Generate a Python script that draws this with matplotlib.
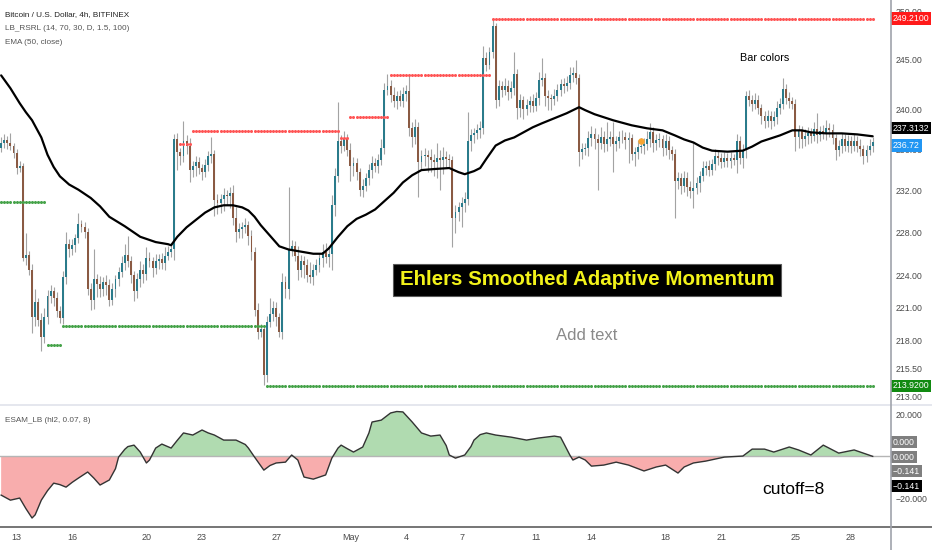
import numpy as np
import matplotlib
matplotlib.use('Agg')
import matplotlib.pyplot as plt
from matplotlib.lines import Line2D
from matplotlib.ticker import NullLocator

# ---------------- data (4h bars, first bar = Apr 12 04:00) ----------------
first_open = 236.2
close = [
    236.7, 236.9, 236.7, 236.4, 235.7, 234.2, 234.4, 225.6, 225.9, 224.5,
    220.1, 221.5, 219.9, 218.3, 220.1, 222.1, 222.5, 221.9, 220.7, 220.0,
    223.8, 226.9, 226.4, 226.8, 227.5, 228.8, 228.5, 228.1, 222.7, 221.7,
    223.6, 223.2, 222.7, 223.4, 223.1, 221.7, 222.7, 223.6, 224.3, 225.1,
    225.9, 225.3, 224.0, 222.5, 223.6, 224.5, 224.1, 225.6, 225.3, 224.7,
    225.3, 225.5, 225.1, 225.8, 226.2, 226.4, 237.0, 235.8, 235.4, 236.8,
    236.4, 234.0, 234.4, 234.8, 234.2, 233.8, 234.5, 235.4, 235.6, 231.1,
    230.8, 231.2, 231.6, 231.5, 231.8, 229.4, 228.1, 228.3, 228.5, 228.7, 227.7,
    226.2, 220.8, 218.8, 219.0, 214.9, 219.7, 220.4, 221.0, 220.1, 218.8,
    223.4, 222.7, 226.4, 226.7, 225.8, 224.5, 225.3, 224.9, 224.0, 223.8,
    224.5, 224.9, 225.6, 226.2, 225.7, 226.0, 230.6, 233.4, 236.8, 236.4,
    237.0, 236.0, 234.4, 234.7, 233.8, 232.1, 232.5, 233.2, 234.0, 234.7,
    234.4, 235.0, 236.2, 241.9, 242.3, 241.4, 240.8, 241.3, 240.8, 241.5,
    241.8, 238.1, 237.2, 238.2, 234.8, 235.4, 235.5, 235.3, 235.0, 234.8,
    235.2, 235.0, 235.3, 235.1, 235.0, 229.4, 230.0, 230.4, 230.8, 231.2,
    236.8, 237.4, 237.6, 237.9, 238.1, 245.2, 244.5, 245.8, 248.4, 240.9,
    242.3, 241.9, 242.3, 241.7, 242.1, 243.5, 240.1, 240.9, 240.0, 240.4,
    240.8, 240.3, 241.1, 242.9, 243.1, 241.3, 241.1, 241.0, 241.3, 241.9,
    242.5, 242.3, 242.6, 243.4, 243.6, 243.1, 235.8, 236.1, 236.2, 237.1,
    237.5, 237.0, 236.7, 237.2, 236.6, 237.0, 237.2, 236.6, 236.8, 237.2,
    237.2, 236.9, 237.1, 235.6, 235.8, 236.3, 236.4, 236.6, 237.0, 237.7,
    236.7, 236.9, 237.0, 236.2, 236.8, 236.0, 235.6, 232.9, 233.2, 232.5, 233.2,
    232.4, 232.0, 232.3, 232.7, 233.4, 234.2, 234.4, 234.0, 234.6, 235.4,
    235.2, 234.8, 235.2, 234.9, 235.2, 235.0, 236.8, 235.2, 236.0, 241.3,
    240.9, 240.5, 240.9, 240.1, 239.3, 238.8, 239.3, 238.8, 239.2, 240.1,
    240.5, 242.0, 241.1, 240.8, 240.5, 237.2, 237.8, 237.0, 237.3, 237.6,
    237.3, 238.0, 237.4, 237.8, 237.5, 238.1, 237.9, 237.1, 236.0, 236.4,
    237.0, 236.4, 236.8, 236.4, 236.8, 236.4, 236.1, 235.4, 236.0, 236.4, 236.72,
]
# wick length above the body top / below the body bottom
wick_hi = [
    0.5, 0.6, 0.4, 0.9, 0.3, 0.4, 0.5, 0.3, 2.1, 0.4,
    0.5, 1.2, 0.4, 0.6, 0.9, 0.5, 0.6, 0.4, 0.5, 0.4,
    0.6, 1.2, 0.5, 0.6, 0.4, 1.1, 0.4, 0.5, 0.3, 0.6,
    2.8, 0.5, 0.7, 0.4, 0.6, 0.5, 0.6, 0.4, 0.5, 0.7,
    1.0, 1.8, 0.5, 0.4, 0.6, 0.8, 0.5, 1.0, 0.6, 0.4,
    0.7, 0.5, 0.6, 0.8, 0.5, 0.6, 0.5, 0.6, 0.4, 2.0,
    0.6, 0.7, 0.5, 0.6, 0.5, 0.4, 0.6, 0.5, 1.6, 0.4,
    0.6, 0.5, 0.7, 0.5, 0.6, 0.8, 1.0, 0.6, 0.5, 0.7, 0.4,
    0.5, 0.4, 0.6, 0.5, 0.3, 0.5, 1.5, 0.6, 0.5, 0.4,
    0.8, 0.5, 6.0, 0.6, 0.5, 0.9, 0.6, 0.5, 0.6, 1.2,
    0.5, 0.6, 0.5, 0.7, 0.8, 0.6, 1.0, 0.8, 3.9, 0.6,
    0.8, 0.5, 0.7, 0.6, 0.5, 0.4, 0.6, 0.5, 0.6, 0.7,
    0.5, 0.6, 0.8, 0.7, 1.2, 0.6, 0.8, 0.5, 0.6, 0.7,
    0.6, 1.7, 0.6, 0.8, 0.5, 0.6, 0.7, 0.5, 0.8, 0.6,
    1.5, 0.8, 1.0, 0.6, 0.5, 0.4, 0.6, 0.5, 0.6, 0.7,
    2.9, 0.6, 0.5, 0.6, 0.7, 1.2, 0.6, 0.5, 0.8, 0.4,
    0.6, 0.5, 0.8, 0.6, 0.7, 2.3, 0.5, 0.6, 0.4, 0.6,
    0.5, 0.7, 0.6, 0.8, 2.1, 0.5, 0.6, 0.4, 0.7, 0.6,
    0.5, 0.6, 0.7, 0.8, 0.6, 1.4, 0.4, 0.6, 0.5, 0.7,
    0.8, 0.6, 0.5, 1.0, 0.6, 1.7, 0.6, 1.5, 0.5, 0.6,
    0.7, 0.5, 0.6, 0.4, 0.5, 0.6, 0.7, 0.5, 0.8, 0.9,
    0.5, 0.6, 0.6, 0.4, 0.7, 0.5, 0.4, 0.5, 0.6, 0.5, 0.7,
    0.6, 0.5, 4.4, 0.6, 0.5, 0.7, 0.5, 0.6, 0.5, 0.7,
    0.6, 0.5, 0.6, 0.5, 0.6, 0.4, 0.7, 0.5, 0.6, 0.5,
    0.6, 0.5, 0.7, 0.5, 0.4, 0.5, 0.6, 0.5, 0.6, 0.7,
    0.6, 1.1, 0.5, 0.6, 0.4, 0.5, 0.6, 0.5, 0.7, 0.6,
    0.5, 0.7, 1.6, 0.5, 0.6, 0.8, 0.5, 0.6, 0.4, 0.5,
    0.6, 0.5, 0.6, 0.5, 0.7, 0.5, 0.6, 0.4, 0.5, 0.6, 0.5,
]
wick_lo = [
    0.4, 0.5, 0.6, 0.4, 0.5, 0.6, 0.4, 0.3, 0.7, 0.5,
    1.4, 0.8, 0.6, 1.3, 0.5, 0.6, 0.7, 0.8, 0.6, 0.4,
    0.5, 0.6, 0.7, 0.5, 0.6, 0.5, 0.4, 0.6, 0.5, 0.9,
    0.8, 1.2, 0.7, 0.6, 0.9, 0.6, 0.5, 0.7, 0.6, 0.5,
    0.6, 0.5, 0.7, 0.9, 0.6, 0.7, 0.8, 0.6, 0.5, 0.9,
    0.6, 0.7, 0.5, 0.6, 0.4, 0.5, 1.0, 1.8, 0.9, 0.6,
    0.8, 1.2, 0.7, 1.0, 0.6, 0.8, 0.5, 0.6, 0.7, 1.5,
    1.0, 0.9, 1.1, 0.9, 1.2, 0.7, 1.0, 0.6, 0.8, 0.5, 0.9,
    0.8, 0.6, 0.7, 0.5, 0.9, 0.6, 0.5, 0.6, 0.8, 0.5,
    0.7, 0.8, 0.9, 0.6, 0.5, 1.0, 0.7, 1.2, 0.6, 0.5,
    0.7, 0.5, 0.6, 0.8, 0.6, 0.9, 1.5, 1.0, 0.6, 0.7,
    0.5, 0.6, 1.5, 1.0, 0.8, 0.6, 0.7, 0.5, 0.6, 0.8,
    0.6, 0.7, 0.5, 0.6, 0.5, 0.7, 0.6, 0.8, 0.5, 0.6,
    0.7, 0.8, 0.9, 0.6, 3.4, 0.8, 1.0, 1.5, 1.2, 1.4,
    1.6, 2.9, 1.4, 0.8, 0.7, 2.8, 1.4, 0.9, 1.9, 0.8,
    0.6, 0.9, 0.7, 0.6, 0.8, 0.6, 0.7, 0.5, 0.6, 0.8,
    0.6, 0.7, 0.5, 0.8, 0.6, 0.7, 1.1, 0.9, 1.0, 0.6,
    0.7, 0.6, 0.5, 0.7, 0.6, 1.0, 1.2, 1.1, 0.6, 0.5,
    0.6, 0.7, 0.5, 0.6, 0.7, 0.6, 1.4, 0.7, 0.6, 0.8,
    0.7, 0.9, 4.6, 0.6, 0.8, 0.7, 0.6, 2.8, 0.7, 0.6,
    0.5, 0.8, 2.2, 0.6, 1.2, 0.7, 0.6, 0.8, 0.6, 0.7,
    0.9, 0.7, 0.6, 0.8, 0.7, 0.9, 0.6, 3.5, 0.7, 0.8, 0.6,
    0.9, 0.7, 1.7, 0.6, 0.8, 0.5, 0.7, 0.6, 0.5, 0.6,
    0.7, 0.6, 0.5, 0.6, 0.7, 0.5, 1.3, 0.6, 1.0, 0.8,
    0.6, 0.7, 0.5, 0.6, 0.8, 0.7, 0.6, 0.8, 0.5, 0.7,
    0.6, 0.5, 0.6, 0.7, 0.5, 1.3, 1.0, 0.8, 0.6, 0.7,
    0.6, 0.5, 0.7, 0.6, 0.5, 0.6, 0.7, 0.5, 1.0, 0.6,
    0.7, 0.5, 0.6, 0.7, 0.5, 0.6, 0.7, 0.8, 0.6, 0.5, 0.6,
]

# EMA(50, close) vertices (bar index, value)
ema_bar = [0, 3, 6, 8, 10, 13, 15, 17, 19, 22, 25, 29, 32, 35, 40, 45, 50, 54, 55, 57,
           60, 63, 66, 69, 72, 75, 78, 80, 82, 84, 87, 90, 93, 97, 101, 104, 106, 109, 112, 115,
           118, 121, 124, 127, 130, 133, 136, 140, 145, 148, 150, 153, 155, 157, 160, 163, 166,
           169, 172, 175, 179, 183, 187, 189, 192, 198, 204, 209, 214, 218, 221, 224, 227, 230,
           235, 240, 243, 246, 249, 252, 256, 259, 262, 267, 272, 277, 282]
ema_val = [243.4, 242.1, 240.6, 239.7, 238.9, 237.2, 235.5, 234.3, 233.4, 232.6,
           232.1, 231.3, 230.5, 229.5, 228.6, 227.6, 227.1, 226.9, 226.8, 227.6,
           228.5, 229.2, 229.9, 230.4, 230.6, 230.6, 230.4, 230.1, 229.5, 228.7,
           227.7, 226.7, 226.4, 226.2, 226.0, 226.0, 226.5, 227.6, 228.6, 229.3,
           229.7, 230.2, 231.0, 231.8, 232.8, 233.5, 234.0, 234.1, 234.2, 233.8,
           233.6, 233.9, 234.2, 235.1, 236.4, 236.9, 237.2, 237.7, 238.2, 238.6,
           239.1, 239.6, 240.2, 239.9, 239.5, 238.9, 238.4, 238.1, 237.9, 237.4,
           237.0, 236.7, 236.2, 235.9, 235.8, 235.9, 236.3, 236.8, 237.1, 237.4,
           237.9, 237.9, 237.7, 237.6, 237.6, 237.5, 237.3132]

# ESAM_LB oscillator (bar index, value)
osc_bar = [0, 3, 6, 8, 10, 11, 13, 15, 17, 19, 21, 23, 25, 28, 30, 32, 35, 37, 38, 40,
           41, 43, 45, 47, 48, 50, 52, 55, 57, 59, 62, 65, 67, 69, 72, 76, 79, 80, 82, 85,
           87, 89, 92, 94, 96, 98, 101, 105, 107, 109, 110, 112, 114, 117, 119, 120, 123, 126,
           128, 130, 133, 136, 139, 142, 144, 145, 147, 150, 152, 153, 155, 157, 160, 165, 170,
           174, 179, 181, 182, 184, 185, 187, 189, 191, 195, 199, 203, 208, 212, 215, 219, 221,
           224, 228, 234, 240, 243, 247, 250, 255, 258, 262, 266, 271, 276, 282]
osc_val = [-18.6, -21.0, -20.0, -25.0, -29.5, -28.0, -21.0, -16.5, -12.9, -13.6,
           -14.8, -12.5, -10.5, -7.6, -10.5, -13.8, -11.4, -6.0, -0.5, 3.2,
           4.5, 5.2, 1.9, -3.3, -1.9, 3.8, 5.7, 3.8, 7.5, 11.0,
           10.0, 12.4, 11.0, 10.0, 7.6, 7.6, 5.5, 3.8, -0.5, -6.7,
           -4.5, -3.3, -2.9, 0.5, -1.9, -10.0, -11.0, -9.0, -1.0, 3.8,
           5.2, 3.5, 1.9, 4.3, 11.0, 16.2, 17.1, 20.5, 21.2, 21.0,
           16.2, 11.0, 9.5, 10.0, 5.0, 0.5, -1.0, 0.5, 4.5, 7.6,
           10.2, 11.0, 10.0, 9.0, 7.6, 8.6, 9.5, 9.0, 6.2, 0.5,
           -1.9, -0.5, -1.9, -4.8, -4.3, -2.9, -4.3, -7.1, -5.2, -4.3,
           -8.1, -5.2, -3.3, -2.4, -0.5, 0.0, 3.3, 3.3, 1.9, 4.3,
           2.9, 0.5, 5.2, 1.4, 2.9, -0.141]

# LB_RSRL resistance / support levels
res_start = [58, 62, 110, 113, 126, 159]
res_end = [61, 109, 112, 125, 158, 282]
res_level = [236.6, 237.8, 237.1, 239.2, 243.4, 249.21]
sup_start = [0, 15, 20, 86]
sup_end = [14, 19, 85, 282]
sup_level = [230.9, 217.6, 219.3, 213.92]

signal_bar = 207
signal_price = 236.85

# time axis: days after Apr 13
day_offset = [0, 3, 7, 10, 14, 18, 21, 24, 28, 31, 35, 38, 42, 45]
day_label = ['13', '16', '20', '23', '27', 'May', '4', '7', '11', '14', '18', '21', '25', '28']
price_ticks = [213, 215.5, 218, 221, 224, 228, 232, 236, 240, 245, 250]

assert len(close) == len(wick_hi) == len(wick_lo)
assert len(osc_bar) == len(osc_val) and len(ema_bar) == len(ema_val)

plt.rcParams['font.family'] = ['Liberation Sans', 'DejaVu Sans']

W, H = 932, 550
AXR = 890  # right edge of the plot area in pixels
fig = plt.figure(figsize=(W / 100, H / 100), dpi=100)
fig.patch.set_facecolor('white')
ax = fig.add_axes([0, 1 - 403 / H, AXR / W, 403 / H])
ax2 = fig.add_axes([0, 1 - 526 / H, AXR / W, 121 / H])

teal = '#2a7b8b'
brown = '#8a5a43'

# candles
c = np.array(close)
o = np.array([first_open] + close[:-1])
top = np.maximum(o, c)
bot = np.minimum(o, c)
hi = top + np.array(wick_hi)
lo = bot - np.array(wick_lo)
xb = np.arange(len(c))
ax.vlines(xb, lo, hi, color='#a3a3a3', lw=0.8, zorder=2)
ax.bar(xb, np.maximum(top - bot, 0.08), bottom=bot, width=0.62,
       color=np.where(c >= o, teal, brown), linewidth=0, zorder=3)

# EMA
ax.plot(ema_bar, ema_val, color='black', lw=1.6, zorder=4,
        solid_joinstyle='round', solid_capstyle='round')

# resistance / support dots
for s, e, lvl in zip(res_start, res_end, res_level):
    xs = np.arange(s, e + 1)
    ax.plot(xs, np.full(len(xs), lvl), ls='none', marker='o', ms=2.2, mew=0,
            color='#ff5656', zorder=5, snap=False)
for s, e, lvl in zip(sup_start, sup_end, sup_level):
    xs = np.arange(s, e + 1)
    ax.plot(xs, np.full(len(xs), lvl), ls='none', marker='o', ms=2.2, mew=0,
            color='#46a34a', zorder=5, snap=False)
ax.scatter([signal_bar], [signal_price], s=22, color='#f7a531', linewidths=0, zorder=6)

xlim = (-0.37, 287.6)
ax.set_yscale('log')
ax.set_ylim(212.4, 251.15)
ax.set_xlim(*xlim)
ax.set_xticks([])
ax.yaxis.tick_right()
ax.set_yticks(price_ticks)
ax.set_yticklabels([f'{p:.2f}' for p in price_ticks])
ax.yaxis.set_minor_locator(NullLocator())
ax.tick_params(axis='y', length=0, pad=4, labelsize=6.3, labelcolor='#4a4a4a')
for sp in ax.spines.values():
    sp.set_visible(False)

# oscillator panel
ov = np.array(osc_val)
ax2.fill_between(osc_bar, ov, 0, where=ov >= 0, interpolate=True, color='#b0dbb0', linewidth=0)
ax2.fill_between(osc_bar, ov, 0, where=ov <= 0, interpolate=True, color='#f8adad', linewidth=0)
ax2.axhline(0, color='#b5b5b5', lw=1, zorder=1)
ax2.plot(osc_bar, ov, color='#333333', lw=1.0, zorder=3, solid_joinstyle='round')
ax2.set_xlim(*xlim)
ax2.set_ylim(-33.3, 24.3)
ax2.yaxis.tick_right()
ax2.set_yticks([20, -20])
ax2.set_yticklabels(['20.000', '\u221220.000'])
ax2.tick_params(axis='y', length=0, pad=4, labelsize=6.3, labelcolor='#4a4a4a')
tick_idx = [5 + 6 * d for d in day_offset]
ax2.set_xticks(tick_idx)
ax2.set_xticklabels(day_label)
ax2.tick_params(axis='x', length=0, pad=5, labelsize=6.5, labelcolor='#4a4a4a')
for sp in ax2.spines.values():
    sp.set_visible(False)

# frame lines
fig.add_artist(Line2D([0, 1], [1 - 404.5 / H] * 2, color='#e0e3eb', lw=1.2))
fig.add_artist(Line2D([0, 1], [1 - 526.5 / H] * 2, color='#5d5d5d', lw=1.2))
fig.add_artist(Line2D([(AXR + 0.5) / W] * 2, [0, 1], color='#a0a3ab', lw=1.2))


def tag(axis, val, text, fc, dy=0):
    axis.annotate(text, xy=(1.0, val), xycoords=('axes fraction', 'data'),
                  xytext=(2.2, dy), textcoords='offset points', ha='left', va='center',
                  fontsize=6.3, color='white', annotation_clip=False, zorder=10,
                  bbox=dict(boxstyle='square,pad=0.2', fc=fc, ec='none'))


tag(ax, res_level[-1], f'{res_level[-1]:.4f}', '#ff1a1a')
tag(ax, ema_val[-1], f'{ema_val[-1]:.4f}', '#000000', dy=5.8)
tag(ax, close[-1], f'{close[-1]:.2f}', '#2196f3', dy=-2.2)
tag(ax, sup_level[-1], f'{sup_level[-1]:.4f}', '#118a11')
tag(ax2, 0, '0.000', '#7f7f7f', dy=10)
tag(ax2, 0, '0.000', '#7f7f7f', dy=-0.7)
tag(ax2, osc_val[-1], '\u22120.141', '#7f7f7f', dy=-10.6)
tag(ax2, osc_val[-1], '\u22120.141', '#000000', dy=-21.4)


def ftext(xp, yp, s, **kw):
    fig.text(xp / W, 1 - yp / H, s, **kw)


ftext(5, 15, 'Bitcoin / U.S. Dollar, 4h, BITFINEX', fontsize=5.9, color='#222222',
      ha='left', va='center')
ftext(5, 29, 'LB_RSRL (14, 70, 30, D, 1.5, 100)', fontsize=5.9, color='#555555',
      ha='left', va='center')
ftext(5, 43, 'EMA (50, close)', fontsize=5.9, color='#555555', ha='left', va='center')
ftext(5, 421, 'ESAM_LB (hl2, 0.07, 8)', fontsize=5.9, color='#555555', ha='left', va='center')

ftext(765, 58, 'Bar colors', fontsize=7.8, color='black', ha='center', va='center')
ftext(587, 280, 'Ehlers Smoothed Adaptive Momentum', fontsize=14.8, weight='bold',
      color='#f2f21a', ha='center', va='center',
      bbox=dict(boxstyle='square,pad=0.33', fc='black', ec='#5a5a5a', lw=0.8))
ftext(587, 336, 'Add text', fontsize=12, color='#8a8a8a', ha='center', va='center')
ftext(793, 490, 'cutoff=8', fontsize=12.5, color='black', ha='center', va='center')

fig.savefig('out.png', dpi=100, facecolor='white')
